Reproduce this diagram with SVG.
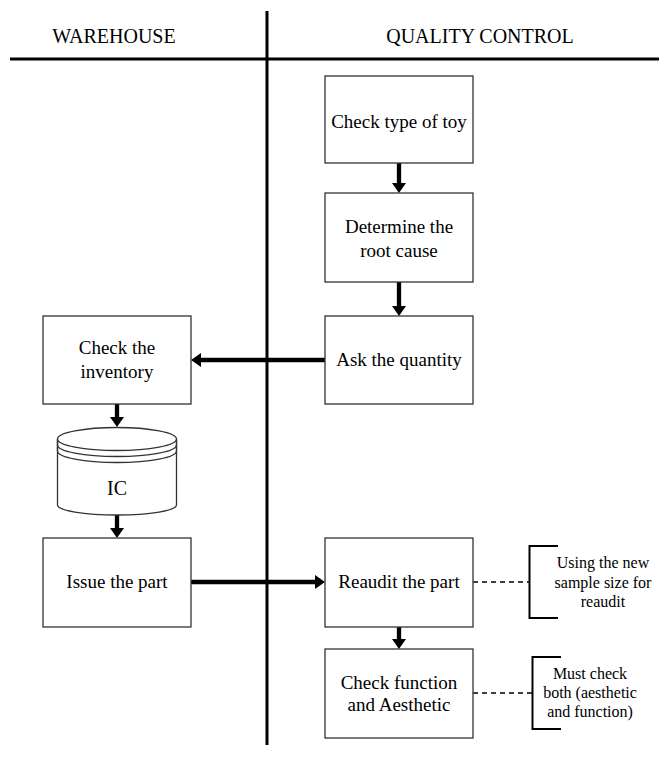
<svg xmlns="http://www.w3.org/2000/svg" width="659" height="771" viewBox="0 0 659 771">
  <style>
    .lane { stroke: #000; stroke-width: 3; fill: none; }
    .box { fill: #fff; stroke: #333; stroke-width: 1.3; }
    .rim { fill: none; stroke: #333; stroke-width: 1.3; }
    .flow { stroke: #000; stroke-width: 4.3; fill: none; }
    .note { stroke: #000; stroke-width: 1.3; fill: none; stroke-dasharray: 5 4; }
    .brk { stroke: #000; stroke-width: 2; fill: none; }
    text { font-family: 'Liberation Serif', 'DejaVu Serif', serif; fill: #000; text-anchor: middle; }
    .hdr { font-size: 20px; }
    .lbl { font-size: 19px; }
    .sm { font-size: 16px; }
  </style>
  <defs>
    <marker id="head" viewBox="0 0 10 14" markerWidth="10" markerHeight="14" refX="2" refY="7" orient="auto" markerUnits="userSpaceOnUse">
      <path d="M0,0 L10,7 L0,14 z" fill="#000"/>
    </marker>
  </defs>

  <!-- swimlane frame -->
  <g id="lanes">
    <line class="lane" x1="10" y1="59" x2="659" y2="59"/>
    <line class="lane" x1="267" y1="11" x2="267" y2="745"/>
    <text class="hdr" x="114" y="43" font-family="Liberation Serif, serif">WAREHOUSE</text>
    <text class="hdr" x="480" y="43" font-family="Liberation Serif, serif">QUALITY CONTROL</text>
  </g>

  <!-- connectors -->
  <g id="connectors">
    <line class="flow" x1="399" y1="163" x2="399" y2="185" marker-end="url(#head)"/>
    <line class="flow" x1="399" y1="282" x2="399" y2="308" marker-end="url(#head)"/>
    <line class="flow" x1="325" y1="360" x2="199" y2="360" marker-end="url(#head)"/>
    <line class="flow" x1="117" y1="404" x2="117" y2="419" marker-end="url(#head)"/>
    <line class="flow" x1="117" y1="515" x2="117" y2="530" marker-end="url(#head)"/>
    <line class="flow" x1="191" y1="582" x2="317" y2="582" marker-end="url(#head)"/>
    <line class="flow" x1="399" y1="627" x2="399" y2="641" marker-end="url(#head)"/>
    <line class="note" x1="473" y1="582" x2="529" y2="582"/>
    <line class="note" x1="473" y1="693" x2="532" y2="693"/>
  </g>

  <g id="check-type">
    <rect class="box" x="325" y="76" width="148" height="87"/>
    <text class="lbl" x="399" y="128">Check type of toy</text>
  </g>

  <g id="root-cause">
    <rect class="box" x="325" y="193" width="148" height="89"/>
    <text class="lbl" x="399" y="233">Determine the</text>
    <text class="lbl" x="399" y="257">root cause</text>
  </g>

  <g id="ask-quantity">
    <rect class="box" x="325" y="316" width="148" height="88"/>
    <text class="lbl" x="399" y="366">Ask the quantity</text>
  </g>

  <g id="check-inventory">
    <rect class="box" x="43" y="316" width="148" height="88"/>
    <text class="lbl" x="117" y="354">Check the</text>
    <text class="lbl" x="117" y="378">inventory</text>
  </g>

  <!-- inventory store drawn as a cylinder -->
  <g id="ic">
    <path class="box" d="M57.5,439 L57.5,505 A59.5,10 0 0 0 176.5,505 L176.5,439"/>
    <ellipse class="box" cx="117" cy="439" rx="59.5" ry="11.5"/>
    <path class="rim" d="M57.5,439 L57.5,445 A59.5,11.5 0 0 0 176.5,445 L176.5,439"/>
    <path class="rim" d="M57.5,445 L57.5,451 A59.5,11.5 0 0 0 176.5,451 L176.5,445"/>
    <text class="hdr" x="117" y="495">IC</text>
  </g>

  <g id="issue-part">
    <rect class="box" x="43" y="538" width="148" height="89"/>
    <text class="lbl" x="117" y="588">Issue the part</text>
  </g>

  <g id="reaudit">
    <rect class="box" x="325" y="538" width="148" height="89"/>
    <text class="lbl" x="399" y="588">Reaudit the part</text>
  </g>

  <g id="check-function">
    <rect class="box" x="325" y="649" width="148" height="89"/>
    <text class="lbl" x="399" y="689">Check function</text>
    <text class="lbl" x="399" y="711">and Aesthetic</text>
  </g>

  <g id="note-reaudit">
    <path class="brk" d="M558,546 L529.5,546 L529.5,618 L558,618"/>
    <text class="sm" x="603" y="568">Using the new</text>
    <text class="sm" x="603" y="588">sample size for</text>
    <text class="sm" x="603" y="607">reaudit</text>
  </g>

  <g id="note-check">
    <path class="brk" d="M561,657 L532.5,657 L532.5,729 L561,729"/>
    <text class="sm" x="590" y="679">Must check</text>
    <text class="sm" x="590" y="698">both (aesthetic</text>
    <text class="sm" x="590" y="717">and function)</text>
  </g>
</svg>
